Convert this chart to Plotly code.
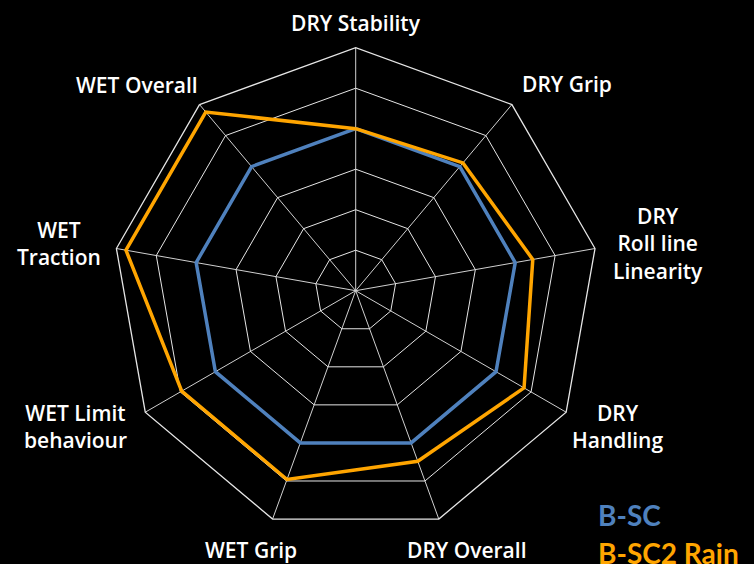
import plotly.graph_objects as go

categories = ["DRY Stability", "DRY Grip", "DRY Roll line Linearity", "DRY Handling",
              "DRY Overall", "WET Grip", "WET Limit behaviour", "WET Traction", "WET Overall"]
bsc = [100, 100, 100, 100, 100, 100, 100, 100, 100]
bsc2_rain = [100, 103, 111, 120, 112, 124, 124, 144, 144]
series_names = ["B-SC", "B-SC2 Rain"]
series_colors = ["#4F81BD", "#FFA500"]

labels_display = ["DRY Stability", "DRY Grip", "DRY<br>Roll line<br>Linearity", "DRY<br>Handling",
                  "DRY Overall", "WET Grip", "WET Limit<br>behaviour", "WET<br>Traction", "WET Overall"]
label_pos = [(356, 23), (567, 84), (658, 243), (617, 426), (467, 550),
             (251, 550), (75, 426), (59, 243), (137, 85)]

W, H = 754, 564
fig = go.Figure()
for name, vals, col in zip(series_names, [bsc, bsc2_rain], series_colors):
    fig.add_trace(go.Scatterpolar(
        r=vals + vals[:1], theta=categories + categories[:1], mode="lines",
        line=dict(color=col, width=3.5), name=name, showlegend=False))

cx, cy, R = 355.7, 290.7, 243
fig.update_layout(
    width=W, height=H, paper_bgcolor="black", plot_bgcolor="black",
    margin=dict(l=0, r=0, t=0, b=0),
    font=dict(family="Open Sans", color="white"),
    polar=dict(
        bgcolor="black", gridshape="linear",
        domain=dict(x=[(cx - R) / W, (cx + R) / W], y=[(H - cy - R) / H, (H - cy + R) / H]),
        radialaxis=dict(range=[0, 150], dtick=25, showticklabels=False, ticks="",
                        showline=False, gridcolor="#e6e6e6", gridwidth=1.3),
        angularaxis=dict(direction="clockwise", rotation=90, showticklabels=False, ticks="",
                         showline=True, linecolor="#e6e6e6", linewidth=1.3,
                         gridcolor="#d0d0d0", gridwidth=1.3),
    ),
)
for txt, (x, y) in zip(labels_display, label_pos):
    fig.add_annotation(text=txt, x=x / W, y=1 - y / H, xref="paper", yref="paper",
                       showarrow=False, xanchor="center", yanchor="middle",
                       font=dict(family="Open Sans", size=21, color="white", weight=600))
for i, (name, col) in enumerate(zip(series_names, series_colors)):
    fig.add_annotation(text=name, x=596 / W, y=1 - (515 + 38 * i) / H, xref="paper", yref="paper",
                       showarrow=False, xanchor="left", yanchor="middle",
                       font=dict(family="Lato", size=28, color=col, weight="bold"))
fig.write_html("out.html", config={"displayModeBar": False},
               post_script="document.body.style.margin='0';")
